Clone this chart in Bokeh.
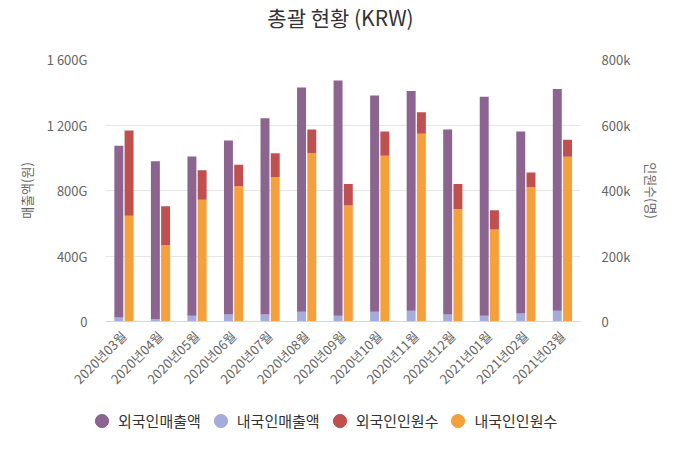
import math
from bokeh.plotting import figure
from bokeh.layouts import column
from bokeh.models import (FactorRange, Range1d, LinearAxis, FixedTicker, Legend,
                          LegendItem, ColumnDataSource, Label)
from bokeh.transform import dodge
from bokeh.embed import file_html
from bokeh.resources import INLINE

FONT = "Noto Sans CJK KR"

months = ["2020년03월", "2020년04월", "2020년05월", "2020년06월", "2020년07월",
          "2020년08월", "2020년09월", "2020년10월", "2020년11월", "2020년12월",
          "2021년01월", "2021년02월", "2021년03월"]
# sales in G (billion won)
domestic_sales = [24, 14, 35, 43, 43, 59, 35, 59, 65, 43, 35, 49, 65]
foreign_sales = [1050, 964, 972, 1062, 1198, 1370, 1436, 1321, 1343, 1129, 1337, 1111, 1355]
# people in k
domestic_people = [323, 233, 372, 413, 441, 514, 354, 506, 573, 343, 281, 410, 503]
foreign_people = [260, 119, 90, 66, 73, 72, 66, 74, 66, 77, 59, 45, 52]

series_names = ["외국인매출액", "내국인매출액", "외국인인원수", "내국인인원수"]
colors = ["#8B6490", "#A5ABDB", "#C0504F", "#F6A03B"]
title_text = "총괄 현황 (KRW)"

src = ColumnDataSource(dict(month=months,
                            dsales=domestic_sales, fsales=foreign_sales,
                            dpeople=domestic_people, fpeople=foreign_people))


def no_align(fig):
    try:
        fig.frame_align = False
    except Exception:
        pass


# --- title strip ---
tt = figure(width=664, height=49, output_backend="svg", toolbar_location=None,
            x_axis_type=None, y_axis_type=None, x_range=(0, 1), y_range=(0, 1),
            min_border=0)
no_align(tt)
tt.outline_line_color = None
tt.border_fill_color = "white"
tt.background_fill_color = "white"
tt.add_layout(Label(x=340, y=33, x_units="screen", y_units="screen", text=title_text,
                    text_align="center", text_baseline="middle", text_font=FONT,
                    text_font_size="21px", text_color="#333333"))

# --- chart ---
p = figure(x_range=FactorRange(*months), y_range=Range1d(0, 1600),
           width=664, height=351, output_backend="svg", toolbar_location=None,
           min_border_left=105, min_border_right=76, min_border_top=10,
           min_border_bottom=79)
no_align(p)
p.extra_y_ranges = {"people": Range1d(0, 800)}
p.x_range.range_padding = 0
p.outline_line_color = None
p.background_fill_color = "white"
p.border_fill_color = "white"

w = 0.245
p.vbar_stack(["dsales", "fsales"], x=dodge("month", -0.135, range=p.x_range),
             width=w, source=src, color=[colors[1], colors[0]], line_color=None)
p.vbar_stack(["dpeople", "fpeople"], x=dodge("month", 0.145, range=p.x_range),
             width=w, source=src, color=[colors[3], colors[2]], line_color=None,
             y_range_name="people")

yl = p.yaxis[0]
yl.ticker = FixedTicker(ticks=[0, 400, 800, 1200, 1600])
yl.major_label_overrides = {0: "0", 400: "400G", 800: "800G", 1200: "1 200G", 1600: "1 600G"}
yl.axis_label = "매출액(원)"

yr = LinearAxis(y_range_name="people", axis_label="인원수(명)",
                ticker=FixedTicker(ticks=[0, 200, 400, 600, 800]))
yr.major_label_overrides = {0: "0", 200: "200k", 400: "400k", 600: "600k", 800: "800k"}
p.add_layout(yr, "right")

for ax in (yl, yr):
    ax.axis_line_color = None
    ax.major_tick_line_color = None
    ax.minor_tick_line_color = None
    ax.major_label_text_font = FONT
    ax.major_label_text_font_size = "13px"
    ax.major_label_text_color = "#666666"
    ax.axis_label_text_font = FONT
    ax.axis_label_text_font_size = "13px"
    ax.axis_label_text_font_style = "normal"
    ax.axis_label_text_color = "#666666"
yl.major_label_standoff = 12
yl.axis_label_standoff = 8
yr.major_label_standoff = 15
yr.axis_label_standoff = 9

xa = p.xaxis[0]
xa.major_label_orientation = math.pi / 4
xa.major_label_text_font = FONT
xa.major_label_text_font_size = "13px"
xa.major_label_text_color = "#666666"
xa.axis_line_color = "#ccd6eb"
xa.major_tick_line_color = None
xa.minor_tick_line_color = None
xa.major_label_standoff = 6

p.xgrid.grid_line_color = None
p.ygrid.grid_line_color = "#e6e6e6"

# --- legend strip ---
lg = figure(width=664, height=40, output_backend="svg", toolbar_location=None,
            x_axis_type=None, y_axis_type=None, x_range=(0, 1), y_range=(0, 1),
            min_border=0)
no_align(lg)
lg.outline_line_color = None
lg.background_fill_color = "white"
lg.border_fill_color = "white"
dummy = []
for c in colors:
    dummy.append(lg.scatter(x=[0.5], y=[float("nan")], marker="circle", size=13, color=c))

legend = Legend(items=[LegendItem(label=n, renderers=[r]) for n, r in zip(series_names, dummy)],
                orientation="horizontal", location=(85, 3),
                label_text_font=FONT, label_text_font_size="15px",
                label_text_color="#333333", glyph_width=33, glyph_height=33,
                label_standoff=-3, spacing=3, border_line_color=None,
                background_fill_alpha=0, margin=0, padding=0)
lg.add_layout(legend, "center")

open("out.html", "w").write(file_html(column(tt, p, lg, spacing=0), INLINE))
